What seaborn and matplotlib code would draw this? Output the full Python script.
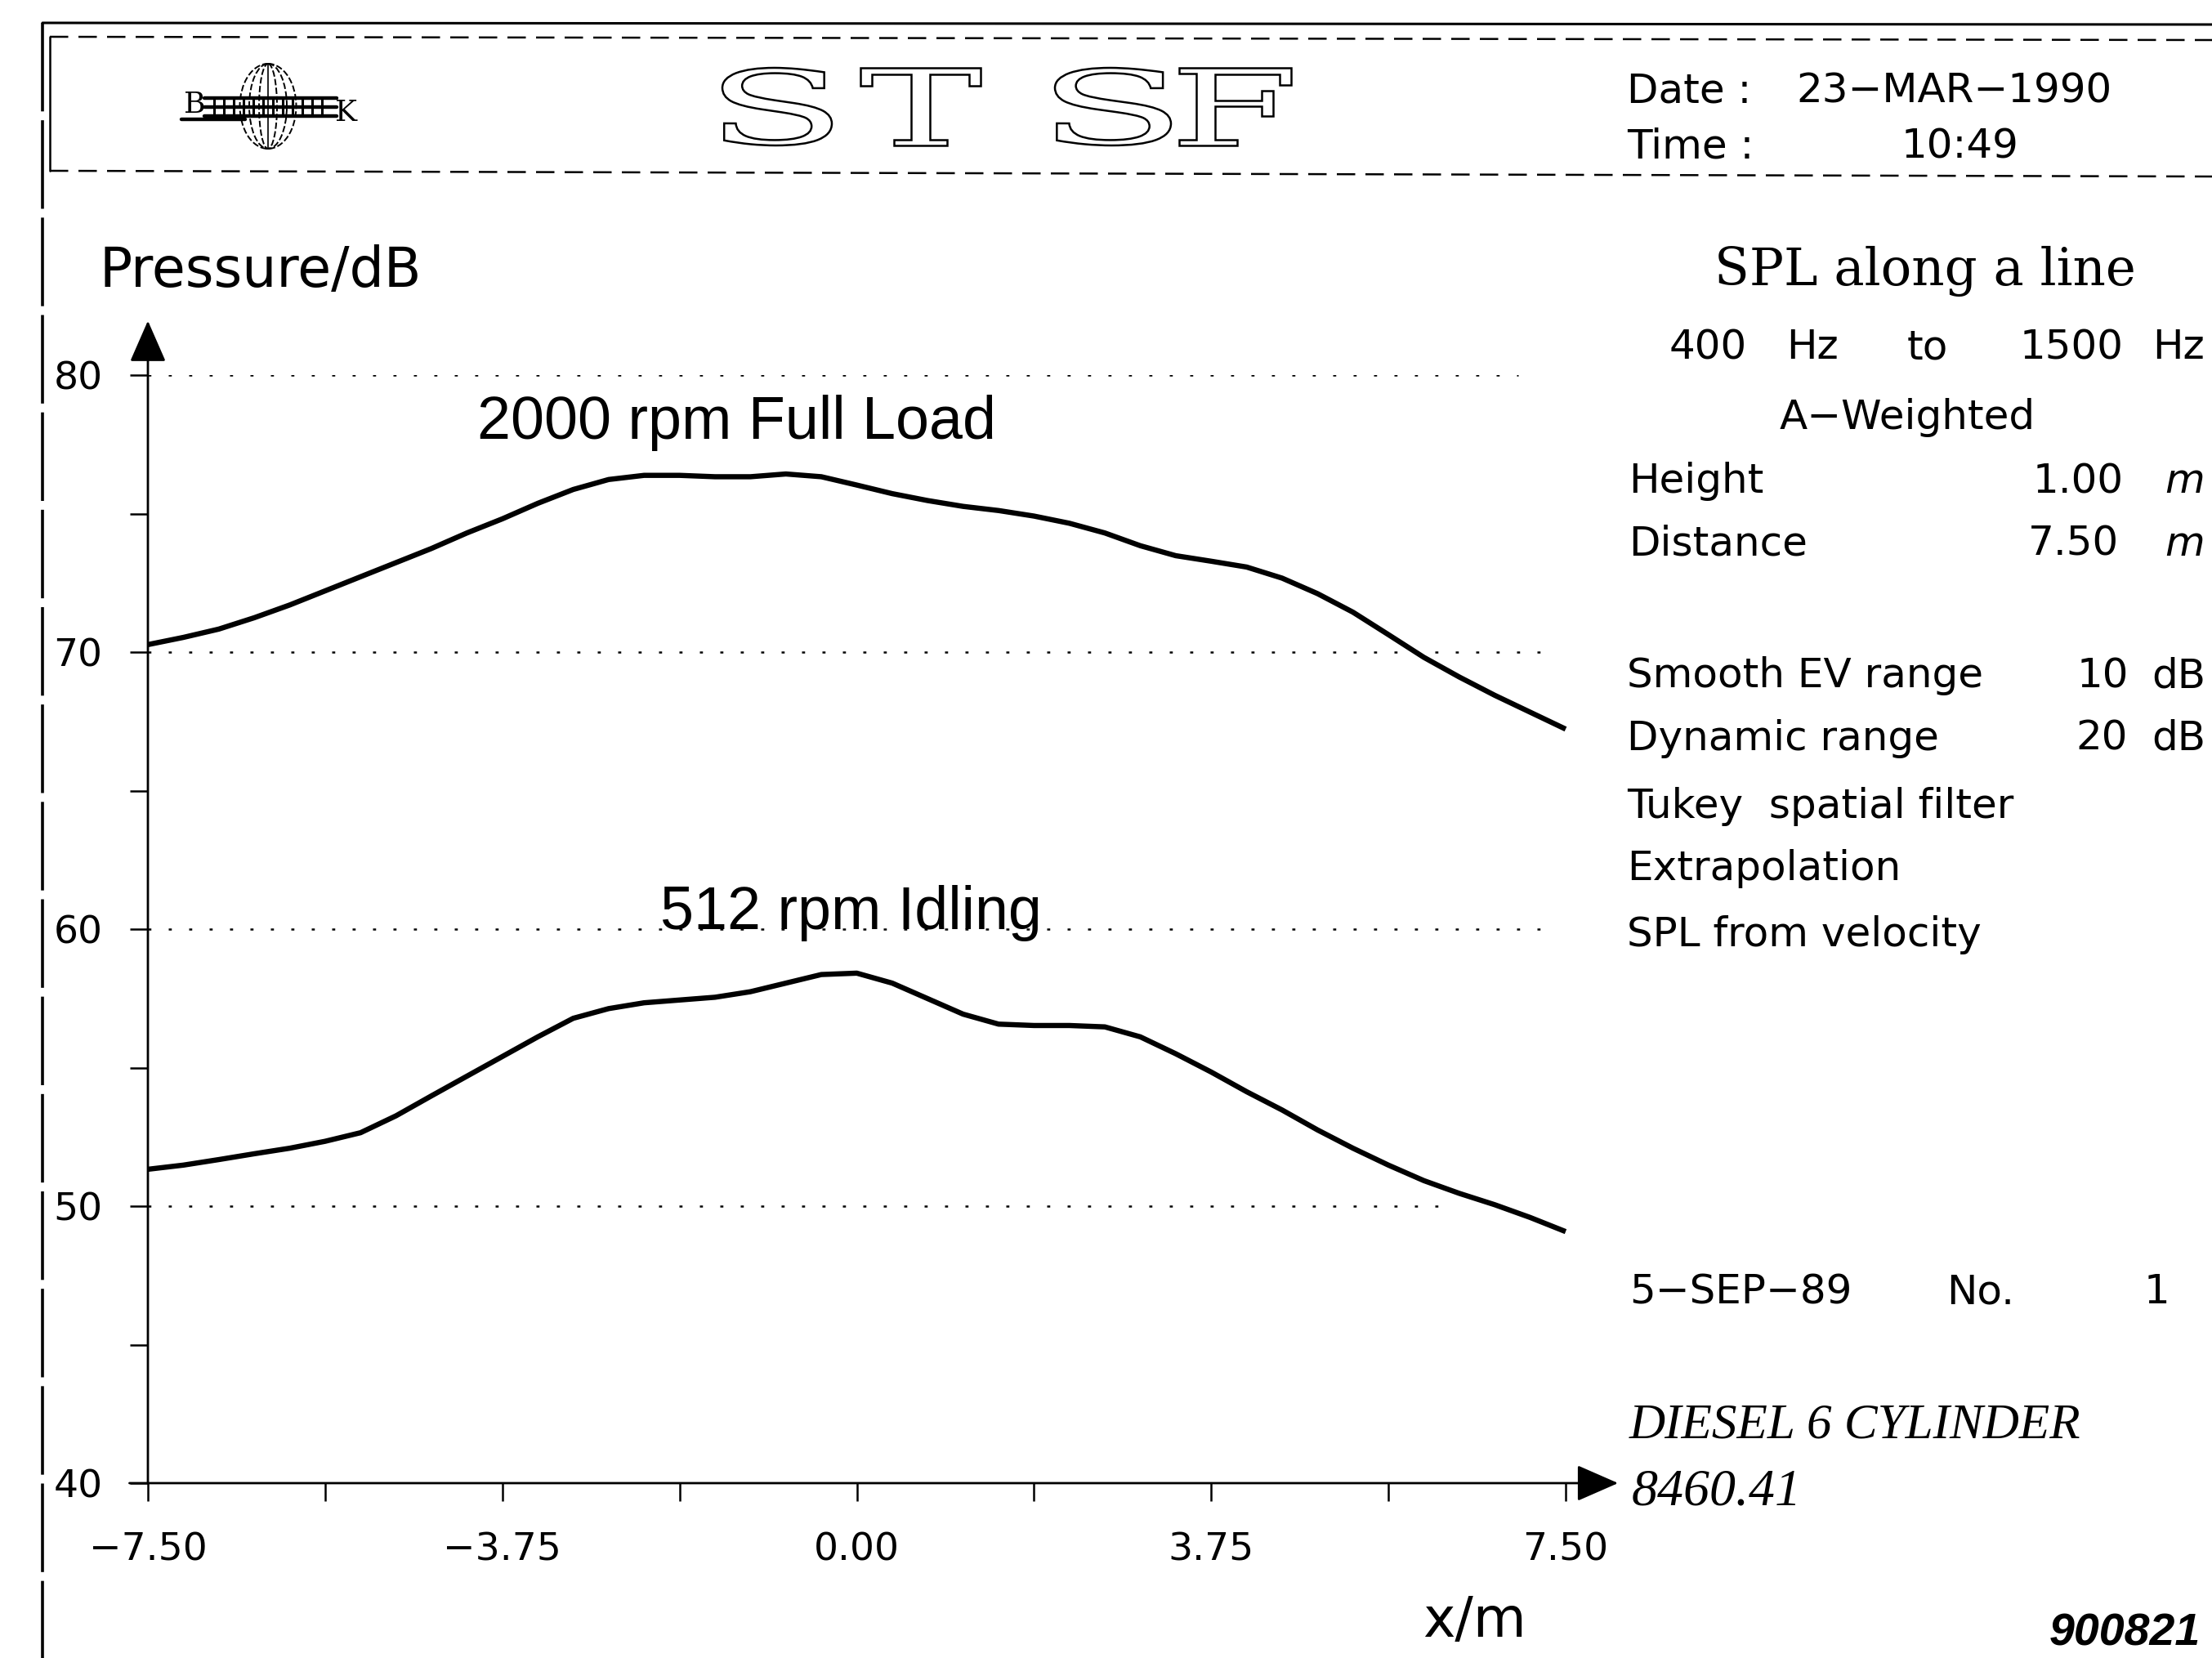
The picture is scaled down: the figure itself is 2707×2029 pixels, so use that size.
"""
SPL along a line -- STSF plot sheet (2000 rpm full load vs 512 rpm idling)
"""
import matplotlib
matplotlib.use('Agg')
import numpy as np
import pandas as pd
import matplotlib.pyplot as plt
import seaborn as sns
from matplotlib.lines import Line2D
from matplotlib.patches import Ellipse, PathPatch
from matplotlib.textpath import TextPath
from matplotlib.font_manager import FontProperties
from matplotlib.transforms import Affine2D

# ---------------------------------------------------------------------------
# data (every 0.375 m)
# ---------------------------------------------------------------------------
x_m = [-7.5, -7.125, -6.75, -6.375, -6.0, -5.625, -5.25, -4.875, -4.5, -4.125,
       -3.75, -3.375, -3.0, -2.625, -2.25, -1.875, -1.5, -1.125, -0.75, -0.375,
       0.0, 0.375, 0.75, 1.125, 1.5, 1.875, 2.25, 2.625, 3.0, 3.375,
       3.75, 4.125, 4.5, 4.875, 5.25, 5.625, 6.0, 6.375, 6.75, 7.125, 7.5]
full_load_db = [70.27, 70.53, 70.83, 71.24, 71.70, 72.21, 72.72, 73.23, 73.74, 74.30,
                74.81, 75.37, 75.87, 76.23, 76.38, 76.38, 76.33, 76.33, 76.43, 76.33,
                76.03, 75.72, 75.47, 75.26, 75.11, 74.91, 74.65, 74.30, 73.84, 73.48,
                73.28, 73.07, 72.67, 72.11, 71.44, 70.63, 69.81, 69.10, 68.44, 67.83,
                67.22]
idling_db = [51.33, 51.48, 51.68, 51.89, 52.09, 52.34, 52.65, 53.26, 53.98, 54.69,
             55.40, 56.11, 56.78, 57.13, 57.34, 57.44, 57.54, 57.74, 58.05, 58.36,
             58.41, 58.05, 57.49, 56.93, 56.57, 56.52, 56.52, 56.47, 56.11, 55.50,
             54.84, 54.13, 53.47, 52.75, 52.09, 51.48, 50.92, 50.46, 50.05, 49.59,
             49.08]

y_major = [40, 50, 60, 70, 80]
y_minor = [45, 55, 65, 75]
x_major = [-7.5, -3.75, 0.0, 3.75, 7.5]
x_minor = [-5.625, -1.875, 1.875, 5.625]
x_labels = ['\u22127.50', '\u22123.75', '0.00', '3.75', '7.50']
grid_levels = [50, 60, 70, 80]
grid_end = [6.3, 7.35, 7.35, 7.0]

W, H = 2707, 2029

sns.set_style('ticks')
plt.rcParams['font.family'] = ['DejaVu Sans']
plt.rcParams['text.color'] = 'black'
plt.rcParams['xtick.color'] = 'black'
plt.rcParams['ytick.color'] = 'black'

fig = plt.figure(figsize=(W / 100, H / 100), dpi=100)
# pixel coordinates of the sheet, origin top-left
pix = Affine2D().scale(1, -1).translate(0, H).scale(1 / W, 1 / H) + fig.transFigure


def put(x, y, s, **kw):
    kw.setdefault('va', 'center_baseline')
    kw.setdefault('fontsize', 36)
    kw.setdefault('color', 'black')
    return fig.text(x, y, s, transform=pix, **kw)


# ---------------------------------------------------------------------------
# sheet frame and header box
# ---------------------------------------------------------------------------
fig.add_artist(Line2D([52, W], [28, 30], transform=pix, color='black', lw=2.2))
fig.add_artist(Line2D([52, 52], [28, H], transform=pix, color='black', lw=2.6,
                      ls=(0, (30, 3))))
fig.add_artist(Line2D([61, W], [45, 49], transform=pix, color='black', lw=1.8,
                      ls=(0, (9, 5))))
fig.add_artist(Line2D([61, W], [209, 216], transform=pix, color='black', lw=1.8,
                      ls=(0, (9, 5))))
fig.add_artist(Line2D([61, 61], [45, 209], transform=pix, color='black', lw=1.8))

# B&K globe logo
for w in [69, 46, 22]:
    fig.add_artist(Ellipse((328, 130), w, 104, transform=pix, fill=False,
                           ec='black', lw=1.4, ls=(0, (4, 1.5))))
fig.add_artist(Line2D([328, 328], [78, 182], transform=pix, color='black', lw=1.2))
for yy in [120, 131, 142]:
    fig.add_artist(Line2D([250, 412], [yy, yy], transform=pix, color='black', lw=3.2))
fig.add_artist(Line2D([222, 300], [146, 146], transform=pix, color='black', lw=3.2))
for xx in range(262, 400, 12):
    fig.add_artist(Line2D([xx, xx], [120, 142], transform=pix, color='black', lw=2.2))
put(238, 124, 'B', fontsize=26, family='DejaVu Serif', ha='center')
put(424, 134, 'K', fontsize=26, family='DejaVu Serif', ha='center')

# hollow STSF lettering
stsf_boxes = [('S', 884, 1018), ('T', 1053, 1200), ('S', 1291, 1433), ('F', 1443, 1580)]
for ch, x0, x1 in stsf_boxes:
    tp = TextPath((0, 0), ch, size=100, prop=FontProperties(family='DejaVu Serif'))
    bb = tp.get_extents()
    tr = (Affine2D().translate(-bb.x0, -bb.y0)
          .scale((x1 - x0) / bb.width, -(178 - 83) / bb.height)
          .translate(x0, 178) + pix)
    fig.add_artist(PathPatch(tp, transform=tr, fc='white', ec='black', lw=1.8))

put(1991, 107, 'Date :')
put(2198, 107, '23\u2212MAR\u22121990')
put(1991, 174, 'Time :')
put(2327, 174, '10:49')

# ---------------------------------------------------------------------------
# the plot itself
# ---------------------------------------------------------------------------
ax = fig.add_axes([181 / W, 1 - 1815 / H, (1916 - 181) / W, (1815 - 459) / H])

df = pd.DataFrame({
    'x': x_m + x_m,
    'dB': full_load_db + idling_db,
    'run': ['2000 rpm Full Load'] * len(x_m) + ['512 rpm Idling'] * len(x_m),
})
sns.lineplot(data=df, x='x', y='dB', units='run', estimator=None, sort=False,
             color='black', lw=4.6, legend=False, ax=ax)
for ln in ax.lines:
    ln.set_clip_on(False)
    ln.set_solid_capstyle('butt')
    ln.set_solid_joinstyle('round')

ax.hlines(grid_levels, -7.5, grid_end, colors='black', lw=1.8,
          linestyles=[(0, (1.5, 8.5))] * len(grid_levels))

ax.set_xlim(-7.5, 7.5)
ax.set_ylim(40, 80)
for s in ax.spines.values():
    s.set_visible(False)

ax.set_yticks(y_major)
ax.set_yticks(y_minor, minor=True)
ax.set_yticklabels([str(v) for v in y_major])
ax.set_xticks(x_major)
ax.set_xticks(x_minor, minor=True)
ax.set_xticklabels(x_labels)
ax.tick_params(which='both', direction='out', length=16, width=1.8, color='black',
               left=True, bottom=True, labelcolor='black')
ax.tick_params(axis='y', which='major', labelsize=34, pad=24)
ax.tick_params(axis='x', which='major', labelsize=34, pad=27)
ax.set_xlabel('')
ax.set_ylabel('')

arrow_kw = dict(arrowstyle='-|>,head_length=0.8,head_width=0.35', mutation_scale=40,
                lw=2.0, color='black', shrinkA=0, shrinkB=0)
ax.annotate('', xy=(0, 1.049), xytext=(0, 0), xycoords='axes fraction',
            textcoords='axes fraction', arrowprops=arrow_kw, annotation_clip=False)
ax.annotate('', xy=(1.037, 0), xytext=(-0.013, 0), xycoords='axes fraction',
            textcoords='axes fraction', arrowprops=arrow_kw, annotation_clip=False)

ax.text(-1.27, 77.7, '2000 rpm Full Load', ha='center', va='baseline',
        fontsize=53, family='Liberation Sans', color='black')
ax.text(-0.06, 60.0, '512 rpm Idling', ha='center', va='baseline',
        fontsize=53, family='Liberation Sans', color='black')

put(121, 325, 'Pressure/dB', fontsize=48)
put(1804, 1977, 'x/m', fontsize=48, ha='center')

# ---------------------------------------------------------------------------
# right-hand info panel
# ---------------------------------------------------------------------------
put(2356, 325, 'SPL along a line', family='DejaVu Serif', fontsize=45, ha='center')
put(2043, 420, '400')
put(2186, 420, 'Hz')
put(2334, 420, 'to')
put(2472, 420, '1500')
put(2634, 420, 'Hz')
put(2334, 506, 'A\u2212Weighted', ha='center')
put(1993, 584, 'Height')
put(2488, 584, '1.00')
put(2649, 584, 'm', style='italic')
put(1993, 661, 'Distance')
put(2482, 661, '7.50')
put(2649, 661, 'm', style='italic')
put(1991, 822, 'Smooth EV range')
put(2542, 822, '10')
put(2633, 822, 'dB')
put(1991, 899, 'Dynamic range')
put(2540, 899, '20')
put(2633, 899, 'dB')
put(1991, 982, 'Tukey  spatial filter')
put(1991, 1058, 'Extrapolation')
put(1991, 1139, 'SPL from velocity')

put(1994, 1576, '5\u2212SEP\u221289')
put(2382, 1576, 'No.')
put(2624, 1576, '1')
put(1994, 1738, 'DIESEL 6 CYLINDER', family='Liberation Serif', style='italic', fontsize=44)
put(1997, 1820, '8460.41', family='Liberation Serif', style='italic', fontsize=46)
put(2693, 1993, '900821', family='Liberation Sans', style='italic', fontweight='bold',
    fontsize=40, ha='right')

fig.savefig('out.png', dpi=100)
